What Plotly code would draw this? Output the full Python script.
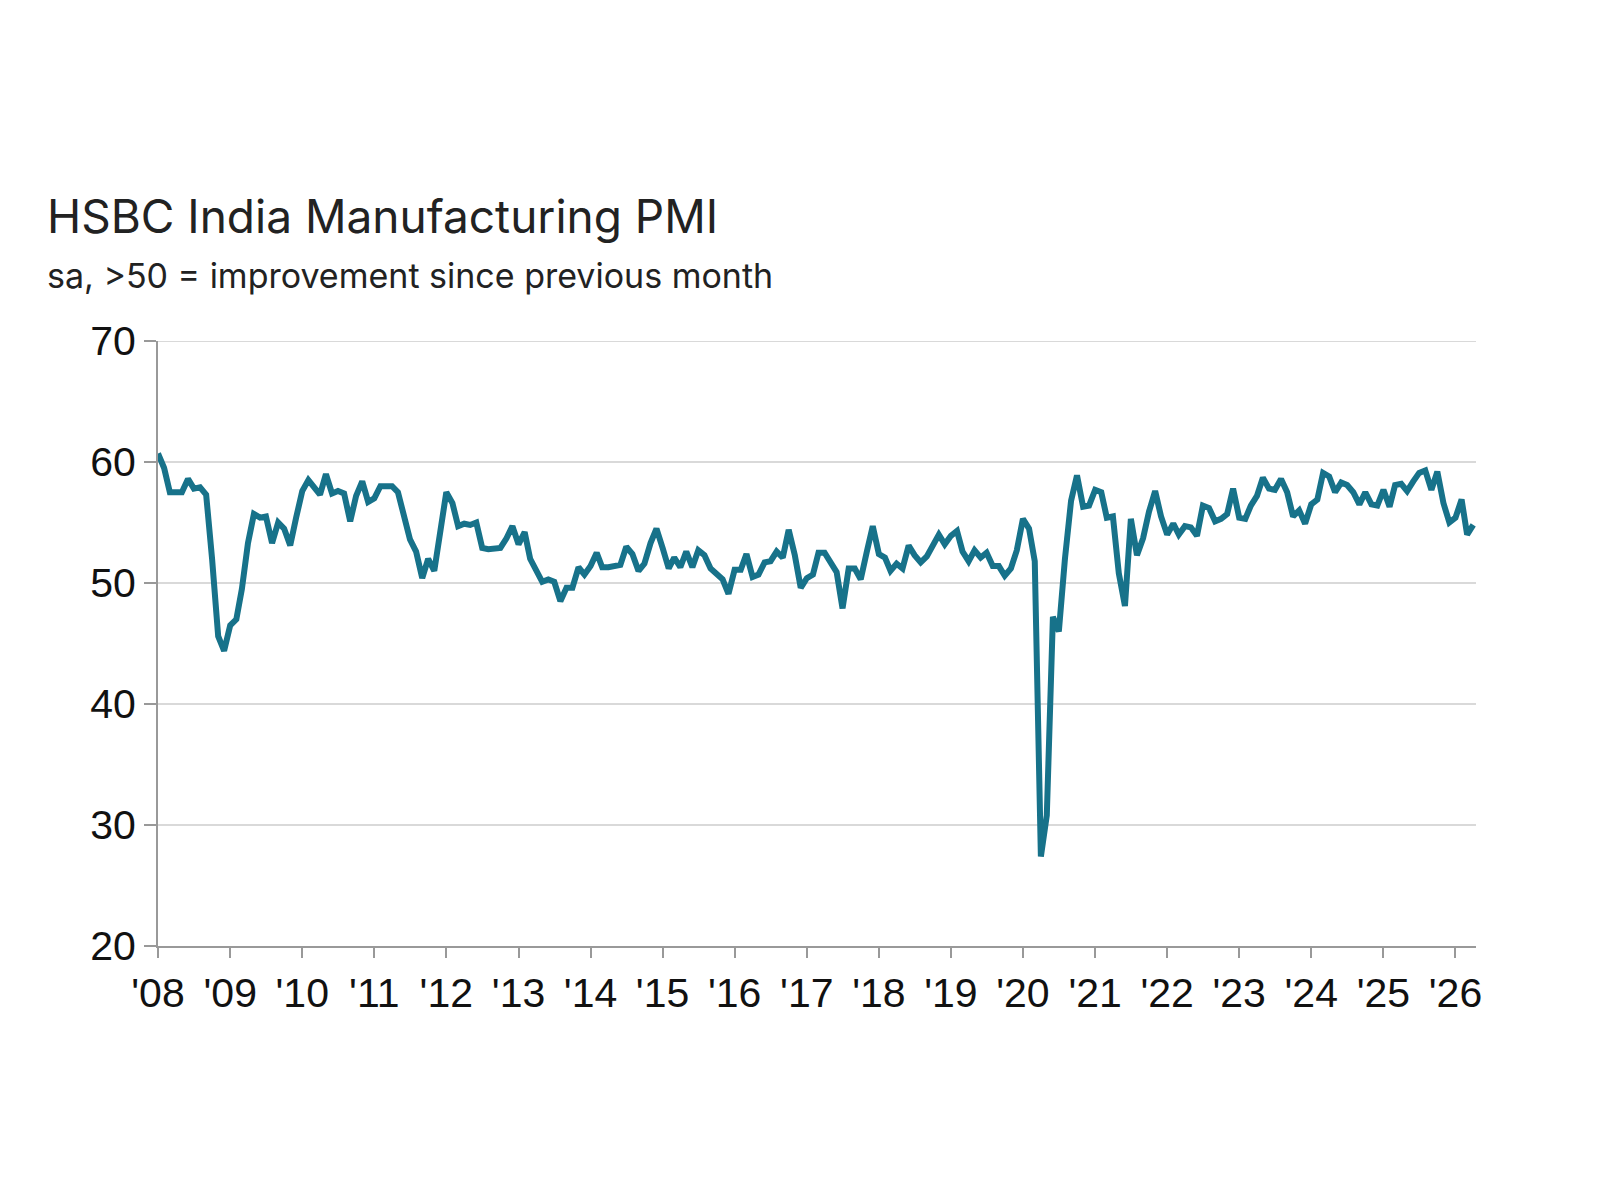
import plotly.graph_objects as go
import pandas as pd

pmi = [
60.7,59.5,57.5,57.5,57.5,58.6,57.8,57.9,57.3,52.0,45.6,44.4,
46.5,47.0,49.5,53.3,55.7,55.4,55.5,53.3,55.0,54.5,53.1,55.4,
57.6,58.5,58.0,57.3,59.0,57.4,57.6,57.4,55.1,57.2,58.4,56.7,
57.0,58.0,58.0,58.0,57.5,55.3,53.6,52.6,50.4,52.0,51.0,54.2,
57.5,56.6,54.7,54.9,54.8,55.0,52.9,52.8,52.8,52.9,53.7,54.7,
53.2,54.2,52.0,51.0,50.1,50.3,50.1,48.5,49.6,49.6,51.3,50.7,
51.4,52.5,51.3,51.3,51.4,51.5,53.0,52.4,51.0,51.6,53.3,54.5,
52.9,51.2,52.1,51.3,52.6,51.3,52.7,52.3,51.2,50.7,50.3,49.1,
51.1,51.1,52.4,50.5,50.7,51.7,51.8,52.6,52.1,54.4,52.3,49.6,
50.4,50.7,52.5,52.5,51.6,50.9,47.9,51.2,51.2,50.3,52.6,54.7,
52.4,52.1,51.0,51.6,51.2,53.1,52.3,51.7,52.2,53.1,54.0,53.2,
53.9,54.3,52.6,51.8,52.7,52.1,52.5,51.4,51.4,50.6,51.2,52.7,
55.3,54.5,51.8,27.4,30.8,47.2,46.0,52.0,56.8,58.9,56.3,56.4,
57.7,57.5,55.4,55.5,50.8,48.1,55.3,52.3,53.7,55.9,57.6,55.5,
54.0,54.9,54.0,54.7,54.6,53.9,56.4,56.2,55.1,55.3,55.7,57.8,
55.4,55.3,56.4,57.2,58.7,57.8,57.7,58.6,57.5,55.5,56.0,54.9,
56.5,56.9,59.1,58.8,57.5,58.3,58.1,57.5,56.5,57.5,56.5,56.4,
57.7,56.3,58.1,58.2,57.6,58.4,59.1,59.3,57.7,59.2,56.6,55.0,
55.4,56.9,54.0,54.8,
]
dates = pd.date_range("2008-01-01", periods=len(pmi), freq="MS")
tick_vals = [f"{y}-01-01" for y in range(2008, 2027)]
tick_text = [f"'{str(y)[2:]}" for y in range(2008, 2027)]

L, R, T, B = 150, 132, 333, 262
fig = go.Figure(go.Scatter(x=dates, y=pmi, mode="lines",
                           line=dict(color="#17728a", width=6)))
fig.update_layout(
    width=1600, height=1200, paper_bgcolor="white", plot_bgcolor="white",
    margin=dict(l=L, r=R, t=T, b=B), showlegend=False,
    font=dict(family="Liberation Sans, Arial", color="#111"),
    annotations=[
        dict(text="HSBC India Manufacturing PMI", x=37, y=208, xref="paper", yref="paper",
             showarrow=False, font=dict(size=46, family="Inter, Roboto", color="#222"),
             xanchor="left", yanchor="middle"),
        dict(text="sa, >50 = improvement since previous month", x=37, y=268, xref="paper",
             yref="paper", showarrow=False, font=dict(size=34, family="Inter, Roboto", color="#222"),
             xanchor="left", yanchor="middle"),
    ],
    shapes=[dict(type="line", xref="paper", yref="y", x0=0, x1=1, y0=70, y1=70,
                 line=dict(color="#d9d9d9", width=2), layer="below")],
)
W, H = 1600 - L - R, 1200 - T - B
for a in fig.layout.annotations:
    a.x = (a.x - L) / W
    a.y = 1 - (a.y - T) / H
fig.update_xaxes(range=["2008-01-01", "2026-04-15"], tickvals=tick_vals, ticktext=tick_text,
                 showgrid=False, showline=True, linecolor="#999", linewidth=2,
                 ticks="outside", tickcolor="#999", ticklen=10, tickwidth=2,
                 tickfont=dict(size=41))
fig.update_yaxes(range=[20, 70], dtick=10, showgrid=True, gridcolor="#d9d9d9", gridwidth=2,
                 showline=True, linecolor="#999", linewidth=2, ticks="outside",
                 tickcolor="#999", ticklen=12, tickwidth=2, tickfont=dict(size=41),
                 zeroline=False)
fig.write_html("out.html")
